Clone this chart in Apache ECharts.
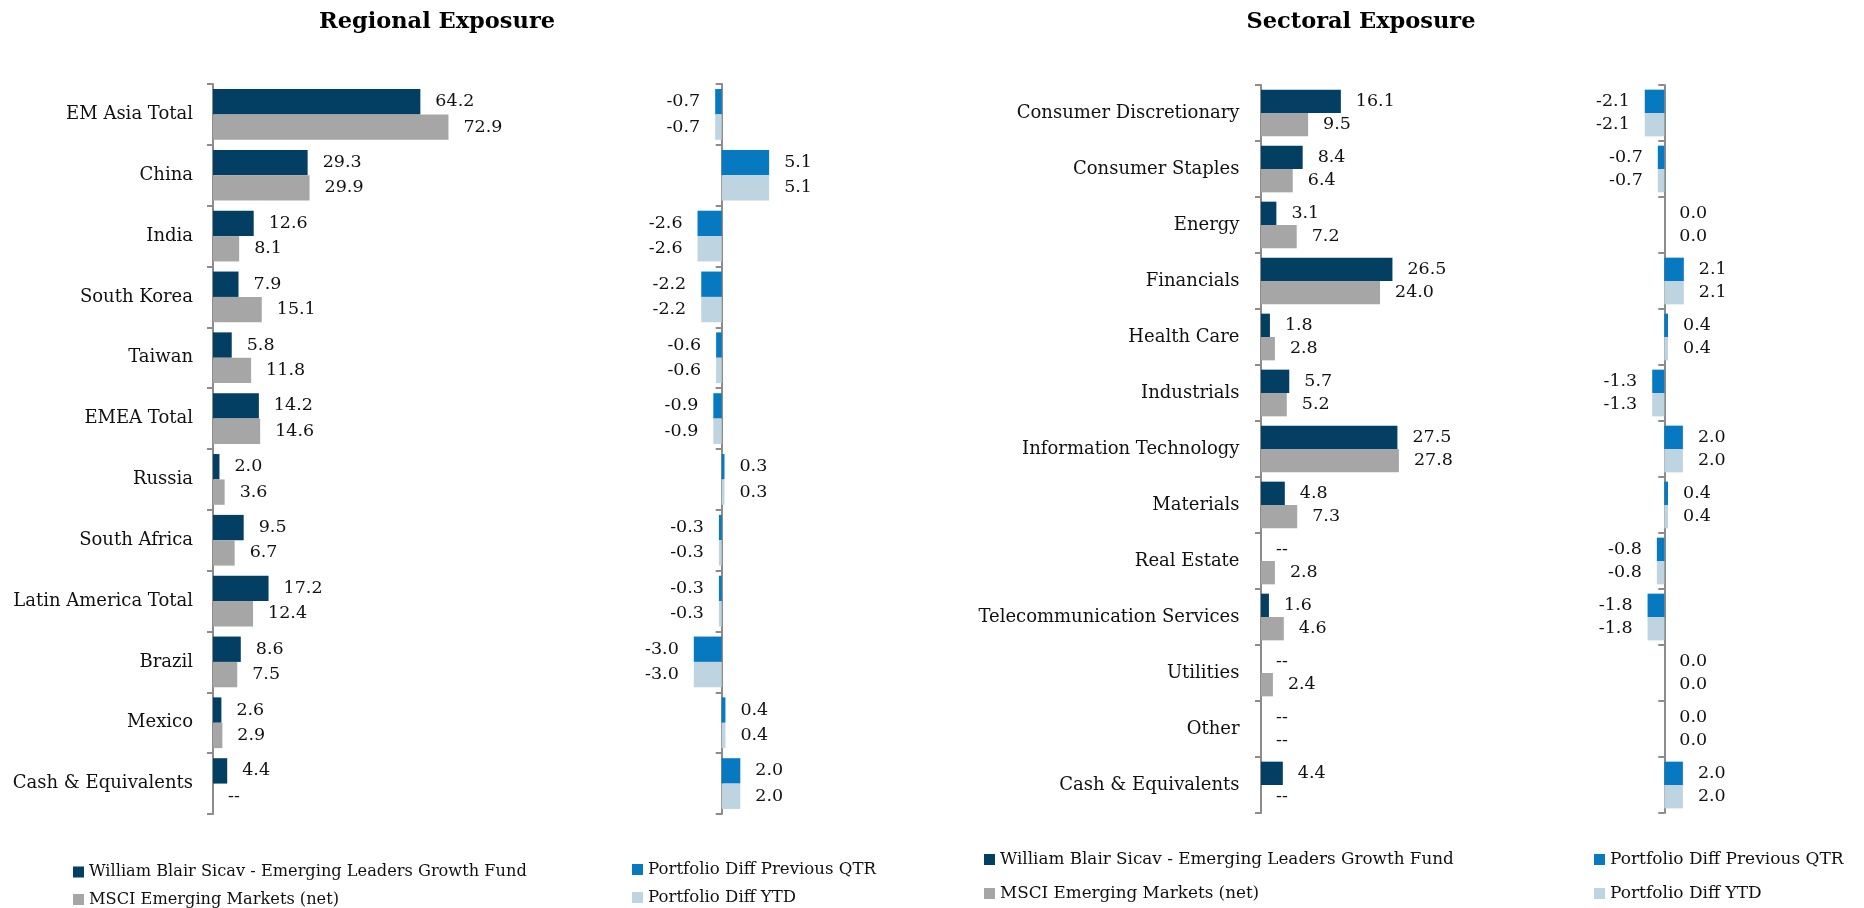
<!DOCTYPE html>
<html>
<head>
<meta charset="utf-8">
<script src="https://cdn.jsdelivr.net/npm/echarts/dist/echarts.min.js"></script>
<style>
  html, body { margin: 0; padding: 0; background: #ffffff; }
  #chart { width: 1864px; height: 908px; }
</style>
</head>
<body>
<div id="chart"></div>
<script>
// ---------- data ----------
const regionCategories = ['EM Asia Total', 'China', 'India', 'South Korea', 'Taiwan', 'EMEA Total', 'Russia', 'South Africa', 'Latin America Total', 'Brazil', 'Mexico', 'Cash & Equivalents'];
const regionFund = [64.2, 29.3, 12.6, 7.9, 5.8, 14.2, 2.0, 9.5, 17.2, 8.6, 2.6, 4.4];
const regionMsci = [72.9, 29.9, 8.1, 15.1, 11.8, 14.6, 3.6, 6.7, 12.4, 7.5, 2.9, null];
const regionDiffQtr = [-0.7, 5.1, -2.6, -2.2, -0.6, -0.9, 0.3, -0.3, -0.3, -3.0, 0.4, 2.0];
const regionDiffYtd = [-0.7, 5.1, -2.6, -2.2, -0.6, -0.9, 0.3, -0.3, -0.3, -3.0, 0.4, 2.0];

const sectorCategories = ['Consumer Discretionary', 'Consumer Staples', 'Energy', 'Financials', 'Health Care', 'Industrials', 'Information Technology', 'Materials', 'Real Estate', 'Telecommunication Services', 'Utilities', 'Other', 'Cash & Equivalents'];
const sectorFund = [16.1, 8.4, 3.1, 26.5, 1.8, 5.7, 27.5, 4.8, null, 1.6, null, null, 4.4];
const sectorMsci = [9.5, 6.4, 7.2, 24.0, 2.8, 5.2, 27.8, 7.3, 2.8, 4.6, 2.4, null, null];
const sectorDiffQtr = [-2.1, -0.7, 0.0, 2.1, 0.4, -1.3, 2.0, 0.4, -0.8, -1.8, 0.0, 0.0, 2.0];
const sectorDiffYtd = [-2.1, -0.7, 0.0, 2.1, 0.4, -1.3, 2.0, 0.4, -0.8, -1.8, 0.0, 0.0, 2.0];

const NAME_FUND = 'William Blair Sicav - Emerging Leaders Growth Fund';
const NAME_MSCI = 'MSCI Emerging Markets (net)';
const NAME_QTR = 'Portfolio Diff Previous QTR';
const NAME_YTD = 'Portfolio Diff YTD';

const COLORS = { fund: '#023f63', msci: '#a6a6a6', qtr: '#0779c1', ytd: '#bed4e0' };

// ---------- helpers ----------
const FONT = 'DejaVu Serif';
const AXIS_GRAY = '#8c8c8c';

function buildData(arr) {
  return arr.map(v => {
    if (v === null) return { value: 0, missing: true, label: { position: 'right' } };
    return { value: v, label: { position: v < 0 ? 'left' : 'right' } };
  });
}

function labelFmt(p) {
  if (p.data && p.data.missing) return '--';
  return Number(p.value).toFixed(1);
}

function barSeries(name, color, arr, idx) {
  return {
    type: 'bar',
    name: name,
    xAxisIndex: idx,
    yAxisIndex: idx,
    barGap: '0%',
    barCategoryGap: '16.6%',
    itemStyle: { color: color },
    label: {
      show: true,
      distance: 15,
      formatter: labelFmt,
      fontFamily: FONT,
      fontSize: 17.5,
      color: '#111111'
    },
    emphasis: { disabled: true },
    data: buildData(arr)
  };
}

function catAxis(idx, cats, showLabels, margin) {
  return {
    type: 'category',
    gridIndex: idx,
    data: cats,
    inverse: true,
    axisLine: { show: true, onZero: true, lineStyle: { color: AXIS_GRAY, width: 2 } },
    axisTick: { show: true, length: 6, lineStyle: { color: AXIS_GRAY, width: 2 } },
    axisLabel: { show: showLabels, fontFamily: FONT, fontSize: 18, color: '#111111', margin: margin }
  };
}

function valAxis(idx, min, max) {
  return { type: 'value', gridIndex: idx, min: min, max: max, show: false, splitLine: { show: false } };
}

function legend(left, top, gap, size, names) {
  return {
    orient: 'vertical',
    left: left,
    top: top,
    padding: 0,
    itemGap: gap,
    itemWidth: 11,
    itemHeight: 11,
    icon: 'rect',
    selectedMode: false,
    data: names,
    textStyle: { fontFamily: FONT, fontSize: size, color: '#111111', lineHeight: 16 }
  };
}

const option = {
  animation: false,
  backgroundColor: '#ffffff',
  title: [
    { text: 'Regional Exposure', left: 432, top: 6, textAlign: 'center',
      textStyle: { fontFamily: FONT, fontWeight: 'bold', fontSize: 22.5, color: '#000000' } },
    { text: 'Sectoral Exposure', left: 1356, top: 6, textAlign: 'center',
      textStyle: { fontFamily: FONT, fontWeight: 'bold', fontSize: 22.5, color: '#000000' } }
  ],
  legend: [
    legend(73, 864, 11.5, 16.2, [NAME_FUND, NAME_MSCI]),
    legend(632, 861, 11, 16.6, [NAME_QTR, NAME_YTD]),
    legend(984, 851, 17, 16.8, [NAME_FUND, NAME_MSCI]),
    legend(1594, 851, 17, 17.0, [NAME_QTR, NAME_YTD])
  ],
  grid: [
    { left: 213, top: 84, width: 323, height: 730 },
    { left: 665.9, top: 84, width: 111.6, height: 730 },
    { left: 1261, top: 85, width: 248, height: 728 },
    { left: 1608.5, top: 85, width: 111.6, height: 728 }
  ],
  xAxis: [
    valAxis(0, 0, 100),
    valAxis(1, -6, 6),
    valAxis(2, 0, 50),
    valAxis(3, -6, 6)
  ],
  yAxis: [
    catAxis(0, regionCategories, true, 20),
    catAxis(1, regionCategories, false, 20),
    catAxis(2, sectorCategories, true, 21.5),
    catAxis(3, sectorCategories, false, 20)
  ],
  series: [
    barSeries(NAME_FUND, COLORS.fund, regionFund, 0),
    barSeries(NAME_MSCI, COLORS.msci, regionMsci, 0),
    barSeries(NAME_QTR, COLORS.qtr, regionDiffQtr, 1),
    barSeries(NAME_YTD, COLORS.ytd, regionDiffYtd, 1),
    barSeries(NAME_FUND, COLORS.fund, sectorFund, 2),
    barSeries(NAME_MSCI, COLORS.msci, sectorMsci, 2),
    barSeries(NAME_QTR, COLORS.qtr, sectorDiffQtr, 3),
    barSeries(NAME_YTD, COLORS.ytd, sectorDiffYtd, 3)
  ]
};

const chart = echarts.init(document.getElementById('chart'), null, { renderer: 'canvas' });
chart.setOption(option);
</script>
</body>
</html>
